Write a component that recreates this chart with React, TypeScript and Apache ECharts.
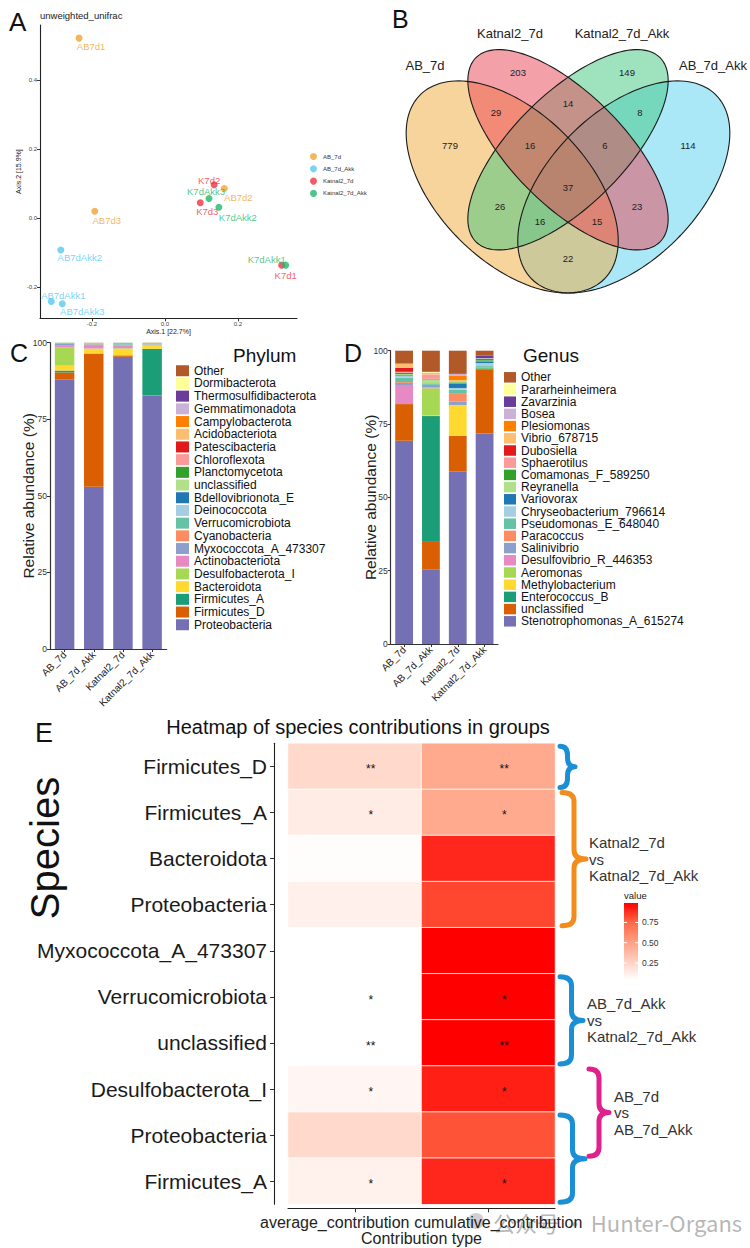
import React, { useEffect, useRef } from "react";
import * as echarts from "echarts";

const FONT = "'Liberation Sans', Arial, Helvetica, sans-serif";

// ---------------- Panel A : PCoA ----------------
const pcoaGroups = ["AB_7d", "AB_7d_Akk", "Katnal2_7d", "Katnal2_7d_Akk"];
const pcoaSamples = ["AB7d1", "AB7d2", "AB7d3", "AB7dAkk1", "AB7dAkk2", "AB7dAkk3", "K7d1", "K7d2", "K7d3", "K7dAkk1", "K7dAkk2", "K7dAkk3"];
const pcoaSampleGroup = ["AB_7d", "AB_7d", "AB_7d", "AB_7d_Akk", "AB_7d_Akk", "AB_7d_Akk", "Katnal2_7d", "Katnal2_7d", "Katnal2_7d", "Katnal2_7d_Akk", "Katnal2_7d_Akk", "Katnal2_7d_Akk"];
const pcoaAxis1 = [-0.235, 0.163, -0.192, -0.311, -0.285, -0.281, 0.320, 0.135, 0.097, 0.331, 0.148, 0.121];
const pcoaAxis2 = [0.521, 0.085, 0.019, -0.242, -0.093, -0.249, -0.137, 0.096, 0.044, -0.137, 0.031, 0.056];
const pcoaXTicks = [-0.2, 0, 0.2];
const pcoaYTicks = [-0.2, 0, 0.2, 0.4];

// ---------------- Panel B : Venn ----------------
const vennSetNames = ["AB_7d", "Katnal2_7d", "Katnal2_7d_Akk", "AB_7d_Akk"];
const vennRegionSets = ["1000", "0100", "0010", "0001", "1100", "0110", "0011", "1110", "0111", "1111", "1010", "0101", "1011", "1101", "1001"];
const vennCounts = [779, 203, 149, 114, 29, 14, 8, 16, 6, 37, 26, 23, 16, 15, 22];

// ---------------- Panels C/D : stacked bars ----------------
const barGroups = ["AB_7d", "AB_7d_Akk", "Katnal2_7d", "Katnal2_7d_Akk"];
const phylumNames = ["Proteobacteria", "Firmicutes_D", "Firmicutes_A", "Bacteroidota", "Desulfobacterota_I", "Actinobacteriota", "Myxococcota_A_473307", "Cyanobacteria", "Verrucomicrobiota", "Deinococcota", "Bdellovibrionota_E", "unclassified", "Planctomycetota", "Chloroflexota", "Patescibacteria", "Acidobacteriota", "Campylobacterota", "Gemmatimonadota", "Thermosulfidibacterota", "Dormibacterota", "Other"];
const phylumAB7d = [88.1, 2.2, 0.6, 1.6, 5.9, 0.8, 0.5, 0.05, 0.05, 0.05, 0.05, 0.05, 0.05, 0.05, 0, 0, 0, 0, 0, 0, 0.1];
const phylumAB7dAkk = [53.0, 43.4, 0.1, 1.5, 0.1, 0.9, 0.4, 0.1, 0.2, 0.1, 0.05, 0.05, 0.05, 0.05, 0, 0, 0, 0, 0, 0, 0];
const phylumKatnal7d = [95.4, 0.4, 0.1, 2.1, 0.2, 0.9, 0.2, 0.05, 0.5, 0.05, 0.05, 0.05, 0, 0, 0, 0, 0, 0, 0, 0, 0];
const phylumKatnal7dAkk = [82.7, 0.2, 15.1, 1.0, 0.1, 0.2, 0.1, 0.05, 0.1, 0.3, 0.05, 0.05, 0, 0, 0, 0, 0, 0, 0, 0, 0.05];

const genusNames = ["Stenotrophomonas_A_615274", "unclassified", "Enterococcus_B", "Methylobacterium", "Aeromonas", "Desulfovibrio_R_446353", "Salinivibrio", "Paracoccus", "Pseudomonas_E_648040", "Chryseobacterium_796614", "Variovorax", "Reyranella", "Comamonas_F_589250", "Sphaerotilus", "Dubosiella", "Vibrio_678715", "Plesiomonas", "Bosea", "Zavarzinia", "Pararheinheimera", "Other"];
const genusAB7d = [69.3, 12.5, 0, 0, 0, 6.5, 0.7, 0.3, 1.5, 0.7, 0.2, 0.3, 0.5, 0.3, 1.4, 1.2, 0.3, 0, 0, 0, 4.3];
const genusAB7dAkk = [25.5, 9.6, 42.6, 0.2, 9.3, 0.3, 0.8, 0, 0.3, 0.2, 0.1, 1.3, 0.2, 1.5, 0, 0.4, 0.1, 0.1, 0, 0.3, 7.2];
const genusKatnal7d = [58.8, 12.2, 0, 10.5, 0, 0, 1.1, 2.7, 1.4, 0.6, 1.6, 0.3, 0.2, 0.2, 0, 0.4, 1.4, 0.7, 0, 0, 7.9];
const genusKatnal7dAkk = [71.8, 21.9, 0.3, 0, 0.2, 0, 0.3, 0, 0.5, 0.8, 0.6, 0.2, 0.7, 0, 0, 0, 0, 0.2, 0.8, 0, 1.7];

// ---------------- Panel E : heatmap ----------------
const heatRows = ["Firmicutes_D", "Firmicutes_A", "Bacteroidota", "Proteobacteria", "Myxococcota_A_473307", "Verrucomicrobiota", "unclassified", "Desulfobacterota_I", "Proteobacteria", "Firmicutes_A"];
const contribTypes = ["average_contribution", "cumulative_contribution"];
const avgContribution = [0.23, 0.135, 0.05, 0.115, 0.04, 0.04, 0.04, 0.09, 0.23, 0.11];
const cumContribution = [0.46, 0.46, 0.9, 0.83, 0.99, 0.99, 0.99, 0.92, 0.8, 0.9];
const avgStars = ["**", "*", "", "", "", "*", "**", "*", "", "*"];
const cumStars = ["**", "*", "", "", "", "*", "**", "*", "", "*"];
const colorbarTicks = [0.25, 0.5, 0.75];
const comparisonLabels = ["", "Katnal2_7d\nvs\nKatnal2_7d_Akk", "AB_7d_Akk\nvs\nKatnal2_7d_Akk", "AB_7d\nvs\nAB_7d_Akk", ""];
const comparisonRows = [[0, 0], [1, 3], [5, 6], [7, 8], [8, 9]];

// ---------------- styles / layout ----------------
const groupColors: Record<string, string> = {
  AB_7d: "#F0A431",
  AB_7d_Akk: "#55C9F4",
  Katnal2_7d: "#EE3441",
  Katnal2_7d_Akk: "#1FB86C",
};
const labelOffsets: Record<string, number[]> = {
  AB7d1: [12, 8], AB7d2: [14, 9], AB7d3: [12, 9], AB7dAkk1: [12, -6], AB7dAkk2: [19, 8], AB7dAkk3: [20, 8],
  K7d1: [4, 10], K7d2: [-5, -4], K7d3: [7, 9], K7dAkk1: [-19, -6], K7dAkk2: [19, 10], K7dAkk3: [-3, -7],
};
const stackColors = ["#7570B3", "#D95F02", "#1B9E77", "#FFD92F", "#A6D854", "#E78AC3", "#8DA0CB", "#FC8D62", "#66C2A5", "#A6CEE3", "#1F78B4", "#B2DF8A", "#33A02C", "#FB9A99", "#E31A1C", "#FDBF6F", "#FF7F00", "#CAB2D6", "#6A3D9A", "#FFFF99", "#B15928"];
const heatStops = ["#FFFFFF", "#FFCFBF", "#FF9E81", "#FF6846", "#FF0000"];

const vennMap = { cx: 568, cy: 361.8, s: 372 };
const vennEllipses = [
  // order of drawing: cyan, orange, green, pink
  { set: 3, u: 0.65, v: 0.47, a: 0.35, b: 0.2, ang: -45, fill: "rgba(85,209,241,0.5)" },
  { set: 0, u: 0.35, v: 0.47, a: 0.35, b: 0.2, ang: 45, fill: "rgba(241,170,60,0.5)" },
  { set: 2, u: 0.5, v: 0.57, a: 0.35, b: 0.15, ang: -45, fill: "rgba(64,197,125,0.5)" },
  { set: 1, u: 0.5, v: 0.57, a: 0.35, b: 0.15, ang: 45, fill: "rgba(234,65,82,0.5)" },
];
const vennLabelPos: Record<string, number[]> = {
  "1000": [450, 145], "0100": [518, 72], "0010": [627, 72], "0001": [688, 145], "1100": [496, 112],
  "0110": [568, 103], "0011": [640, 112], "1110": [530, 145], "0111": [605, 145], "1111": [568, 187],
  "1010": [500, 206], "0101": [637, 206], "1011": [540, 221], "1101": [597, 221], "1001": [568, 258],
};
const vennSetLabelPos = [[425, 65], [510, 33], [622, 33], [713, 65]];
const braceStyle = [
  { color: "#1B8FD6", x0: 560, tip: 575 },
  { color: "#F28C1C", x0: 562, tip: 586 },
  { color: "#1B8FD6", x0: 560, tip: 583 },
  { color: "#E0208C", x0: 589, tip: 609 },
  { color: "#1B8FD6", x0: 560, tip: 585 },
];
const comparisonLabelX = [0, 589, 587, 614, 0];

const gridA = { left: 40, top: 25, width: 257, height: 293.3 };
const gridC = { left: 50, top: 342.7, width: 116.7, height: 306.3 };
const gridD = { left: 390.7, top: 350.7, width: 107.3, height: 293.3 };
const gridE = { left: 288, top: 743.3, width: 267, height: 461 };

function ellipsePoints(cx: number, cy: number, a: number, b: number, angDeg: number) {
  const th = (angDeg * Math.PI) / 180;
  const pts: number[][] = [];
  for (let i = 0; i < 144; i++) {
    const t = (i / 144) * Math.PI * 2;
    const x = a * Math.cos(t);
    const y = b * Math.sin(t);
    pts.push([cx + x * Math.cos(th) - y * Math.sin(th), cy + x * Math.sin(th) + y * Math.cos(th)]);
  }
  return pts;
}

function bracePath(x0: number, tip: number, top: number, bottom: number) {
  const xb = (x0 + tip) / 2;
  const mid = (top + bottom) / 2;
  const r = Math.min(9, (bottom - top) / 4);
  return `M${x0},${top} Q${xb},${top} ${xb},${top + r} L${xb},${mid - r} Q${xb},${mid} ${tip},${mid} Q${xb},${mid} ${xb},${mid + r} L${xb},${bottom - r} Q${xb},${bottom} ${x0},${bottom}`;
}

function buildOption() {
  const txt = (text: string, x: number, y: number, fontSize: number, extra: any = {}) => ({
    type: "text",
    x,
    y,
    silent: true,
    style: { text, fontSize, fontFamily: FONT, fill: "#1a1a1a", align: "left", verticalAlign: "middle", ...extra },
  });

  // ---- scatter series
  const scatterSeries = pcoaGroups.map((g) => ({
    type: "scatter",
    name: g,
    xAxisIndex: 0,
    yAxisIndex: 0,
    symbolSize: 7,
    itemStyle: { color: groupColors[g] },
    label: { show: true, position: "inside", formatter: "{b}", fontSize: 9.5, fontFamily: FONT, color: groupColors[g] },
    data: pcoaSamples
      .map((s, i) => ({ s, i }))
      .filter((d) => pcoaSampleGroup[d.i] === g)
      .map((d) => ({
        name: d.s,
        value: [pcoaAxis1[d.i], pcoaAxis2[d.i]],
        label: { offset: labelOffsets[d.s] },
      })),
  }));

  const phylumByGroup = [phylumAB7d, phylumAB7dAkk, phylumKatnal7d, phylumKatnal7dAkk];
  const genusByGroup = [genusAB7d, genusAB7dAkk, genusKatnal7d, genusKatnal7dAkk];
  const phylumSeries = phylumNames.map((n, k) => ({
    type: "bar",
    name: "p:" + n,
    stack: "phylum",
    xAxisIndex: 1,
    yAxisIndex: 1,
    barWidth: 19.5,
    itemStyle: { color: stackColors[k] },
    emphasis: { disabled: true },
    data: phylumByGroup.map((arr) => arr[k]),
  }));
  const genusSeries = genusNames.map((n, k) => ({
    type: "bar",
    name: "g:" + n,
    stack: "genus",
    xAxisIndex: 2,
    yAxisIndex: 2,
    barWidth: 17.8,
    itemStyle: { color: stackColors[k] },
    emphasis: { disabled: true },
    data: genusByGroup.map((arr) => arr[k]),
  }));

  const heatData: any[] = [];
  heatRows.forEach((_, r) => {
    heatData.push([0, r, avgContribution[r]]);
    heatData.push([1, r, cumContribution[r]]);
  });
  const heatSeries = {
    type: "heatmap",
    xAxisIndex: 3,
    yAxisIndex: 3,
    data: heatData,
    itemStyle: { borderColor: "rgba(255,255,255,0.85)", borderWidth: 1 },
    emphasis: { disabled: true },
    label: {
      show: true,
      fontSize: 12,
      fontFamily: FONT,
      color: "#111",
      offset: [16, 3],
      formatter: (p: any) => (p.value[0] === 0 ? avgStars[p.value[1]] : cumStars[p.value[1]]),
    },
  };
  const series: any[] = [...scatterSeries, ...phylumSeries, ...genusSeries, heatSeries];
  const heatIndex = series.length - 1;

  // ---- graphics
  const g: any[] = [];
  g.push(txt("A", 9, 22, 26, { fill: "#111" }));
  g.push(txt("unweighted_unifrac", 40, 15, 9.5, { fill: "#222" }));
  g.push(txt("B", 392, 19, 25, { fill: "#111" }));
  g.push(txt("C", 10, 353, 25, { fill: "#111" }));
  g.push(txt("D", 344, 353, 25, { fill: "#111" }));
  g.push(txt("E", 35, 733, 27, { fill: "#111" }));
  g.push(txt("Phylum", 233, 355, 19, { fill: "#111" }));
  g.push(txt("Genus", 523, 355, 19, { fill: "#111" }));

  // venn
  const ellPts = vennEllipses.map((e) =>
    ellipsePoints(vennMap.cx + (e.u - 0.5) * vennMap.s, vennMap.cy - e.v * vennMap.s, e.a * vennMap.s, e.b * vennMap.s, e.ang)
  );
  vennEllipses.forEach((e, i) => {
    g.push({ type: "polygon", silent: true, shape: { points: ellPts[i] }, style: { fill: e.fill, stroke: "none" } });
  });
  vennEllipses.forEach((e, i) => {
    g.push({ type: "polygon", silent: true, shape: { points: ellPts[i] }, style: { fill: "none", stroke: "#1a1a1a", lineWidth: 1.1 } });
  });
  vennRegionSets.forEach((key, i) => {
    const p = vennLabelPos[key];
    g.push(txt(String(vennCounts[i]), p[0], p[1], 9.5, { align: "center", fill: "#222" }));
  });
  vennSetNames.forEach((n, i) => {
    const p = vennSetLabelPos[i];
    g.push(txt(n, p[0], p[1], 13, { align: "center", fill: "#222" }));
  });

  // heatmap extras
  g.push(txt("Heatmap of species contributions in groups", 358, 727, 20, { align: "center", fill: "#111" }));
  g.push({
    type: "text",
    x: 45,
    y: 848,
    rotation: Math.PI / 2,
    silent: true,
    style: { text: "Species", fontSize: 40, fontFamily: FONT, fill: "#111", align: "center", verticalAlign: "middle" },
  });
  // colorbar
  const cbMin = 0.04, cbMax = 0.99, cbTop = 903, cbH = 77, cbX = 624, cbW = 14;
  g.push(txt("value", cbX, 895, 9.5, { fill: "#222" }));
  g.push({
    type: "rect",
    silent: true,
    shape: { x: cbX, y: cbTop, width: cbW, height: cbH },
    style: {
      fill: new echarts.graphic.LinearGradient(0, 0, 0, 1, heatStops
        .slice()
        .reverse()
        .map((c, i) => ({ offset: i / (heatStops.length - 1), color: c }))),
    },
  });
  colorbarTicks.forEach((v) => {
    const y = cbTop + ((cbMax - v) / (cbMax - cbMin)) * cbH;
    g.push({ type: "line", silent: true, shape: { x1: cbX, y1: y, x2: cbX + 3, y2: y }, style: { stroke: "#fff", lineWidth: 1 } });
    g.push({ type: "line", silent: true, shape: { x1: cbX + cbW - 3, y1: y, x2: cbX + cbW, y2: y }, style: { stroke: "#fff", lineWidth: 1 } });
    g.push(txt(v.toFixed(2), cbX + cbW + 4, y, 8.5, { fill: "#333" }));
  });
  // braces
  const rowH = gridE.height / heatRows.length;
  comparisonRows.forEach((rr, i) => {
    const top = gridE.top + rr[0] * rowH + 3;
    const bottom = gridE.top + (rr[1] + 1) * rowH - 2;
    const bs = braceStyle[i];
    const name = "brace" + i;
    echarts.graphic.registerShape(name, echarts.graphic.extendPath(bracePath(bs.x0, bs.tip, top, bottom), {}) as any);
    g.push({ type: name, silent: true, style: { fill: "none", stroke: bs.color, lineWidth: 5, lineCap: "round", lineJoin: "round" } });
    if (comparisonLabels[i]) {
      g.push(txt(comparisonLabels[i], comparisonLabelX[i], (top + bottom) / 2, 15, { fill: "#333", lineHeight: 16.5 }));
    }
  });
  // watermark
  g.push({ type: "circle", silent: true, shape: { cx: 476, cy: 1221, r: 8 }, style: { fill: "rgba(170,170,170,0.55)" } });
  g.push(txt("公众号 · Hunter-Organs", 493, 1222, 22, { fill: "rgba(150,150,150,0.7)", fontFamily: "'Noto Sans CJK SC', " + FONT }));

  const baseAxisLine = { show: true, onZero: false, lineStyle: { color: "#222", width: 1.1 } };

  return {
    animation: false,
    textStyle: { fontFamily: FONT },
    grid: [
      { ...gridA, containLabel: false },
      { ...gridC, containLabel: false },
      { ...gridD, containLabel: false },
      { ...gridE, containLabel: false },
    ],
    xAxis: [
      {
        gridIndex: 0,
        type: "value",
        min: -0.342,
        max: 0.362,
        splitLine: { show: false },
        axisLine: baseAxisLine,
        axisTick: { show: true, length: 3, customValues: pcoaXTicks, lineStyle: { color: "#333" } },
        axisLabel: { customValues: pcoaXTicks, fontSize: 6, color: "#444", margin: 3, formatter: (v: number) => v.toFixed(1) },
        name: "Axis.1 [22.7%]",
        nameLocation: "middle",
        nameGap: 10,
        nameMoveOverlap: false,
        nameTextStyle: { fontSize: 7, color: "#222" },
      },
      {
        gridIndex: 1,
        type: "category",
        data: barGroups,
        axisLine: { show: true, lineStyle: { color: "#333", width: 1.2 } },
        axisTick: { show: true, alignWithLabel: true, length: 3, lineStyle: { color: "#333" } },
        axisLabel: { rotate: 45, fontSize: 10, color: "#222", margin: 4, interval: 0 },
      },
      {
        gridIndex: 2,
        type: "category",
        data: barGroups,
        axisLine: { show: true, lineStyle: { color: "#333", width: 1.2 } },
        axisTick: { show: true, alignWithLabel: true, length: 3, lineStyle: { color: "#333" } },
        axisLabel: { rotate: 45, fontSize: 10, color: "#222", margin: 4, interval: 0 },
      },
      {
        gridIndex: 3,
        type: "category",
        data: contribTypes,
        offset: 4,
        axisLine: baseAxisLine,
        axisTick: { show: true, alignWithLabel: true, length: 4, lineStyle: { color: "#333" } },
        axisLabel: {
          fontSize: 16,
          color: "#222",
          margin: 6,
          interval: 0,
          formatter: (v: string) => (v === contribTypes[0] ? "{a|" + v + "}" : "{b|" + v + "}"),
          rich: {
            a: { fontSize: 16, color: "#222", padding: [0, 40, 0, 0] },
            b: { fontSize: 16, color: "#222", padding: [0, 0, 0, 20] },
          },
        },
        name: "Contribution type",
        nameLocation: "middle",
        nameGap: 22,
        nameMoveOverlap: false,
        nameTextStyle: { fontSize: 16, color: "#222" },
      },
    ],
    yAxis: [
      {
        gridIndex: 0,
        type: "value",
        min: -0.291,
        max: 0.559,
        splitLine: { show: false },
        axisLine: baseAxisLine,
        axisTick: { show: true, length: 3, customValues: pcoaYTicks, lineStyle: { color: "#333" } },
        axisLabel: { customValues: pcoaYTicks, fontSize: 6, color: "#444", margin: 3, formatter: (v: number) => v.toFixed(1) },
        name: "Axis.2 [15.9%]",
        nameLocation: "middle",
        nameGap: 18,
        nameMoveOverlap: false,
        nameTextStyle: { fontSize: 7, color: "#222" },
      },
      {
        gridIndex: 1,
        type: "value",
        min: 0,
        max: 100,
        interval: 25,
        splitLine: { show: false },
        axisLine: { show: true, lineStyle: { color: "#333", width: 1.2 } },
        axisTick: { show: true, length: 3, lineStyle: { color: "#333" } },
        axisLabel: { fontSize: 8.5, color: "#333", margin: 3 },
        name: "Relative abundance (%)",
        nameLocation: "middle",
        nameGap: 14,
        nameMoveOverlap: false,
        nameTextStyle: { fontSize: 15.5, color: "#222" },
      },
      {
        gridIndex: 2,
        type: "value",
        min: 0,
        max: 100,
        interval: 25,
        splitLine: { show: false },
        axisLine: { show: true, lineStyle: { color: "#333", width: 1.2 } },
        axisTick: { show: true, length: 3, lineStyle: { color: "#333" } },
        axisLabel: { fontSize: 8.5, color: "#333", margin: 3 },
        name: "Relative abundance (%)",
        nameLocation: "middle",
        nameGap: 12,
        nameMoveOverlap: false,
        nameTextStyle: { fontSize: 15.5, color: "#222" },
      },
      {
        gridIndex: 3,
        type: "category",
        inverse: true,
        data: heatRows.map((r, i) => r + "#" + i),
        offset: 14,
        axisLine: baseAxisLine,
        axisTick: { show: true, alignWithLabel: true, length: 4, lineStyle: { color: "#333" } },
        axisLabel: { fontSize: 21, color: "#1a1a1a", margin: 7, interval: 0, formatter: (v: string) => v.split("#")[0] },
      },
    ],
    legend: [
      {
        data: pcoaGroups,
        left: 310,
        top: 153,
        orient: "vertical",
        icon: "circle",
        itemWidth: 9,
        itemHeight: 7,
        itemGap: 5.3,
        padding: 0,
        selectedMode: false,
        textStyle: { fontSize: 6, color: "#333", lineHeight: 7 },
      },
      {
        data: phylumNames.slice().reverse().map((n) => "p:" + n),
        left: 176,
        top: 364.4,
        orient: "vertical",
        icon: "rect",
        itemWidth: 13,
        itemHeight: 11,
        itemGap: 0,
        padding: 0,
        selectedMode: false,
        formatter: (n: string) => n.slice(2),
        textStyle: { fontSize: 12, color: "#111", lineHeight: 12.7 },
      },
      {
        data: genusNames.slice().reverse().map((n) => "g:" + n),
        left: 504,
        top: 371.2,
        orient: "vertical",
        icon: "rect",
        itemWidth: 12,
        itemHeight: 10.5,
        itemGap: 0,
        padding: 0,
        selectedMode: false,
        formatter: (n: string) => n.slice(2),
        textStyle: { fontSize: 12, color: "#111", lineHeight: 12.2 },
      },
    ],
    visualMap: [
      {
        type: "continuous",
        show: false,
        seriesIndex: heatIndex,
        min: cbMin,
        max: cbMax,
        dimension: 2,
        inRange: { color: heatStops },
      },
    ],
    graphic: g,
    series,
  };
}

export default function App() {
  const ref = useRef<HTMLDivElement>(null);
  useEffect(() => {
    document.body.style.margin = "0";
    if (!ref.current) return;
    const chart = echarts.init(ref.current, undefined, { renderer: "svg" });
    chart.setOption(buildOption() as any);
    return () => chart.dispose();
  }, []);
  return <div ref={ref} style={{ width: 750, height: 1248, background: "#fff" }} />;
}
